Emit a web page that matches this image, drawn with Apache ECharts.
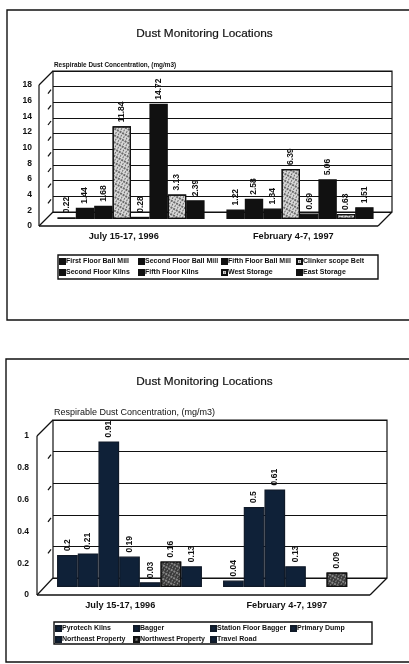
<!DOCTYPE html>
<html><head><meta charset="utf-8">
<style>html,body{margin:0;padding:0;background:#fff}#c{width:409px;height:664px;filter:blur(0.75px)}</style>
<script src="https://cdn.jsdelivr.net/npm/echarts@6/dist/echarts.min.js"></script>
</head><body><div id="c"></div>
<script>
const title = 'Dust Monitoring Locations';
const yTitle = 'Respirable Dust Concentration, (mg/m3)';
const categories = ['July 15-17, 1996', 'February 4-7, 1997'];

const topNames = ['First Floor Ball Mill','Second Floor Ball Mill','Fifth Floor Ball Mill','Clinker scope Belt','Second Floor Kilns','Fifth Floor Kilns','West Storage','East Storage'];
const topJuly = [0.22,1.44,1.68,11.84,0.28,14.72,3.13,2.39];
const topFeb  = [1.22,2.58,1.34,6.39,0.69,5.06,0.63,1.51];
const topSpeckled = [3,6];

const botNames = ['Pyrotech Kilns','Bagger','Station Floor Bagger','Primary Dump','Northeast Property','Northwest Property','Travel Road'];
const botJuly = [0.2,0.21,0.91,0.19,0.03,0.16,0.13];
const botFeb  = [0.04,0.5,0.61,0.13,null,0.09,null];
const botSpeckled = [5];

const font = 'Liberation Sans, Arial, sans-serif';
const ink = '#111';

function panel(p, grids, xAxes, yAxes, series, legends, graphics, titles) {
  const g0 = grids.length;
  const B = p.back, F = p.front, R = p.bars;
  const box = r => ({left:r.l, top:r.t, width:r.r-r.l, height:r.b-r.t, containLabel:false});
  grids.push(
    {...box(B), show:true, borderColor:ink, borderWidth:1.2, backgroundColor:'transparent'},
    box(F), box(R));
  xAxes.push({gridIndex:g0, type:'category', data:p.cats, axisLine:{show:false}, axisTick:{show:false}, axisLabel:{show:false}});
  yAxes.push({gridIndex:g0, type:'value', min:0, max:p.max, interval:p.step, axisLine:{show:false}, axisTick:{show:false}, axisLabel:{show:false},
    splitLine:{show:true, lineStyle:{color:ink, width:1.2}}});
  xAxes.push({gridIndex:g0+1, type:'category', data:p.cats, axisLine:{show:false}, axisTick:{show:false},
    axisLabel:{color:ink, fontFamily:font, fontWeight:'bold', fontSize:p.xFont, margin:p.xMargin}});
  yAxes.push({gridIndex:g0+1, type:'value', min:0, max:p.max, interval:p.step, axisLine:{show:false}, axisTick:{show:false}, splitLine:{show:false},
    axisLabel:{color:ink, fontFamily:font, fontWeight:'bold', fontSize:p.yFont, margin:p.yMargin}});
  xAxes.push({gridIndex:g0+2, type:'category', data:p.cats, axisLine:{show:false}, axisTick:{show:false}, axisLabel:{show:false}});
  yAxes.push({gridIndex:g0+2, type:'value', min:0, max:p.max, axisLine:{show:false}, axisTick:{show:false}, axisLabel:{show:false}, splitLine:{show:false}});

  p.names.forEach((name,i) => {
    const speck = p.speckled.includes(i);
    series.push({
      name, type:'bar', xAxisIndex:g0+2, yAxisIndex:g0+2, barGap:0, barWidth:p.barW, clip:false, z:3,
      data:[p.a[i], p.b[i]],
      itemStyle: speck ? {
        color:p.speckBase, borderColor:ink, borderWidth:1.2,
        decal:{symbol:'rect', symbolSize:0.8, dashArrayX:[[2,1],[1,2]], dashArrayY:[2,1], rotation:0.5, color:p.speckDot}
      } : {color:p.fill, borderColor:p.edge, borderWidth:1.2},
      label:{show:true, position:'top', rotate:90, align:'left', verticalAlign:'middle', distance:4,
        color:ink, fontFamily:font, fontWeight:'bold', fontSize:p.labelFont}
    });
  });

  p.legendCols.forEach(col => {
    legends.push({left:col.x, top:p.legendTop, orient:'vertical', padding:0, itemGap:p.legendGap, itemWidth:5, itemHeight:5, icon:'rect',
      selectedMode:false, data:col.items.map(i => p.names[i]),
      textStyle:{color:ink, fontFamily:font, fontWeight:'bold', fontSize:p.legendFont, padding:[0,0,0,-4]}});
  });

  titles.push(
    {text:title, left:'center', top:p.titleTop, padding:0, textStyle:{color:ink, fontFamily:font, fontWeight:'normal', fontSize:11.8, textBorderColor:ink, textBorderWidth:0.2}},
    {text:yTitle, left:54, top:p.subTop, padding:0, textStyle:{color:ink, fontFamily:font, fontWeight:p.subWeight, fontSize:p.subFont}});

  const line = (x1,y1,x2,y2,w=1.2) => ({type:'line', shape:{x1,y1,x2,y2}, style:{stroke:ink, lineWidth:w}, z:1});
  graphics.push(
    {type:'rect', shape:p.frame, style:{fill:'none', stroke:ink, lineWidth:1.4}, z:1},
    {type:'rect', shape:p.legendBox, style:{fill:'none', stroke:ink, lineWidth:1.4}, z:1},
    line(F.l,F.t,B.l,B.t), line(F.l,F.b,B.l,B.b), line(F.r,F.b,B.r,B.b),
    line(F.l,F.t,F.l,F.b), line(F.l,F.b,F.r,F.b,1.5)
  );
  for (let v=p.step; v<p.max-1e-9; v+=p.step) {
    const y = B.b-(B.b-B.t)*v/p.max;
    graphics.push(line(B.l-5, y+7, B.l-2, y+3));
  }
}

const grids=[], xAxes=[], yAxes=[], series=[], legends=[], graphics=[], titles=[];
panel({
  cats:categories, names:topNames, a:topJuly, b:topFeb, speckled:topSpeckled, max:18, step:2,
  back:{l:53,r:392,t:71,b:212}, front:{l:39,r:378,t:85,b:226}, bars:{l:46.5,r:384.5,t:78,b:219},
  barW:18.4, fill:'#111', edge:'#111', speckBase:'#d8d8d8', speckDot:'#222', labelFont:8.5, xFont:9.2, xMargin:6, yFont:8.5, yMargin:7,
  frame:{x:7,y:10,width:403,height:310}, legendBox:{x:58,y:255,width:320,height:24}, legendTop:258, legendGap:4, legendFont:7,
  legendCols:[{x:59,items:[0,4]},{x:138,items:[1,5]},{x:221,items:[2,6]},{x:296,items:[3,7]}],
  titleTop:28, subTop:62, subFont:6.4, subWeight:'bold'
}, grids,xAxes,yAxes,series,legends,graphics,titles);
panel({
  cats:categories, names:botNames, a:botJuly, b:botFeb, speckled:botSpeckled, max:1, step:0.2,
  back:{l:53,r:387,t:420,b:578}, front:{l:37,r:370,t:436,b:595}, bars:{l:46.5,r:378.5,t:427,b:587},
  barW:20.7, fill:'#0f2138', edge:'#101a28', speckBase:'#3a3a3a', speckDot:'#bbb', labelFont:8.5, xFont:9.2, xMargin:6, yFont:8.5, yMargin:8,
  frame:{x:6,y:359,width:404,height:303}, legendBox:{x:54,y:622,width:318,height:22}, legendTop:625, legendGap:4, legendFont:7,
  legendCols:[{x:55,items:[0,4]},{x:133,items:[1,5]},{x:210,items:[2,6]},{x:290,items:[3]}],
  titleTop:376, subTop:408, subFont:9, subWeight:'normal'
}, grids,xAxes,yAxes,series,legends,graphics,titles);

const chart = echarts.init(document.getElementById('c'));
chart.setOption({animation:false, backgroundColor:'#fff', title:titles, grid:grids, xAxis:xAxes, yAxis:yAxes, series, legend:legends, graphic:graphics});
</script></body></html>
